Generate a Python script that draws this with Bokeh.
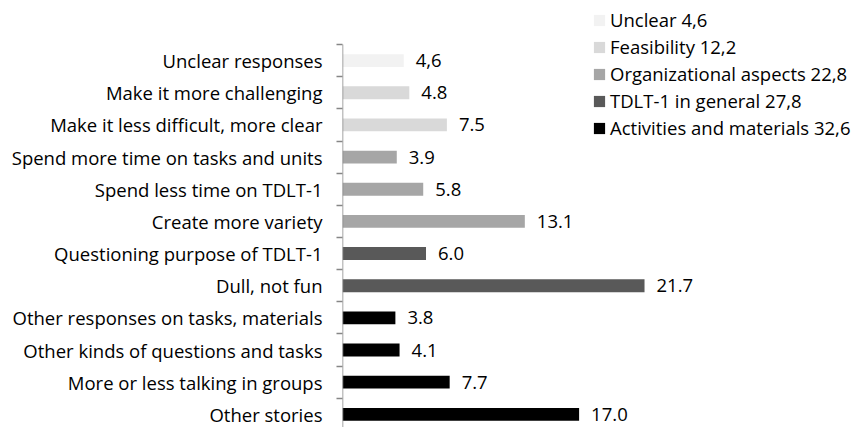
from bokeh.plotting import figure
from bokeh.models import ColumnDataSource, FixedTicker, Legend, LegendItem
from bokeh.core.properties import value
from bokeh.embed import file_html
from bokeh.resources import INLINE

# Data (top to bottom as shown)
categories = [
    "Unclear responses",
    "Make it more challenging",
    "Make it less difficult, more clear",
    "Spend more time on tasks and units",
    "Spend less time on TDLT-1",
    "Create more variety",
    "Questioning purpose of TDLT-1",
    "Dull, not fun",
    "Other responses on tasks, materials",
    "Other kinds of questions and tasks",
    "More or less talking in groups",
    "Other stories",
]
values = [4.4, 4.8, 7.5, 3.9, 5.8, 13.1, 6.0, 21.7, 3.8, 4.1, 7.7, 17.0]
value_labels = ["4,6", "4.8", "7.5", "3.9", "5.8", "13.1", "6.0", "21.7", "3.8", "4.1", "7.7", "17.0"]
groups = ["Unclear", "Feasibility", "Feasibility", "Organizational", "Organizational",
          "Organizational", "TDLT", "TDLT", "Activities", "Activities", "Activities", "Activities"]

group_names = ["Unclear", "Feasibility", "Organizational", "TDLT", "Activities"]
group_labels = ["Unclear 4,6", "Feasibility 12,2", "Organizational aspects 22,8",
                "TDLT-1 in general 27,8", "Activities and materials 32,6"]
group_colors = ["#f2f2f2", "#d9d9d9", "#a6a6a6", "#595959", "#000000"]

n = len(categories)
ypos = [n - 0.5 - i for i in range(n)]

FONT = "Open Sans"
FS = "18.5px"
AXIS_COLOR = "#868686"

y_start = 0.09
p = figure(width=856, height=427, output_backend="svg", toolbar_location=None,
           x_range=(0, 36.93), y_range=(y_start, n + 1.37),
           min_border_left=342, min_border_right=0, min_border_top=0, min_border_bottom=0)
p.outline_line_color = None
p.xgrid.visible = False
p.ygrid.visible = False
p.xaxis.visible = False

color_map = dict(zip(group_names, group_colors))
renderers = {}
for g in group_names:
    idx = [i for i in range(n) if groups[i] == g]
    src = ColumnDataSource(dict(y=[ypos[i] for i in idx], right=[values[i] for i in idx]))
    r = p.hbar(y="y", right="right", left=0, height=0.4, source=src,
               fill_color=color_map[g], line_color=None)
    renderers[g] = r

# category axis line spanning only the category rows
p.segment(x0=[0], y0=[y_start], x1=[0], y1=[n], line_color=AXIS_COLOR, line_width=1.5)

lab_src = ColumnDataSource(dict(x=values, y=ypos, t=value_labels))
p.text(x="x", y="y", text="t", source=lab_src, x_offset=12,
       text_font=value(FONT), text_font_size=FS, text_color="#000000",
       text_baseline="middle", text_align="left")

yax = p.yaxis[0]
yax.ticker = FixedTicker(ticks=ypos, minor_ticks=list(range(1, n + 1)))
yax.major_label_overrides = {ypos[i]: categories[i] for i in range(n)}
yax.major_tick_out = 0
yax.major_tick_in = 0
yax.minor_tick_out = 6
yax.minor_tick_in = 0
yax.minor_tick_line_color = AXIS_COLOR
yax.minor_tick_line_width = 1.5
yax.axis_line_color = None
yax.major_label_standoff = 14
yax.major_label_text_font = FONT
yax.major_label_text_font_size = FS
yax.major_label_text_color = "#000000"

items = [LegendItem(label=group_labels[k], renderers=[renderers[group_names[k]]])
         for k in range(len(group_names))]
legend = Legend(items=items, location=(250, 287), padding=0, margin=0,
                border_line_color=None, background_fill_alpha=0,
                glyph_width=14, glyph_height=14, label_height=14, spacing=2,
                label_standoff=4,
                label_text_font=FONT, label_text_font_size=FS, label_text_color="#000000")
p.add_layout(legend)

open("out.html", "w").write(file_html(p, INLINE))
